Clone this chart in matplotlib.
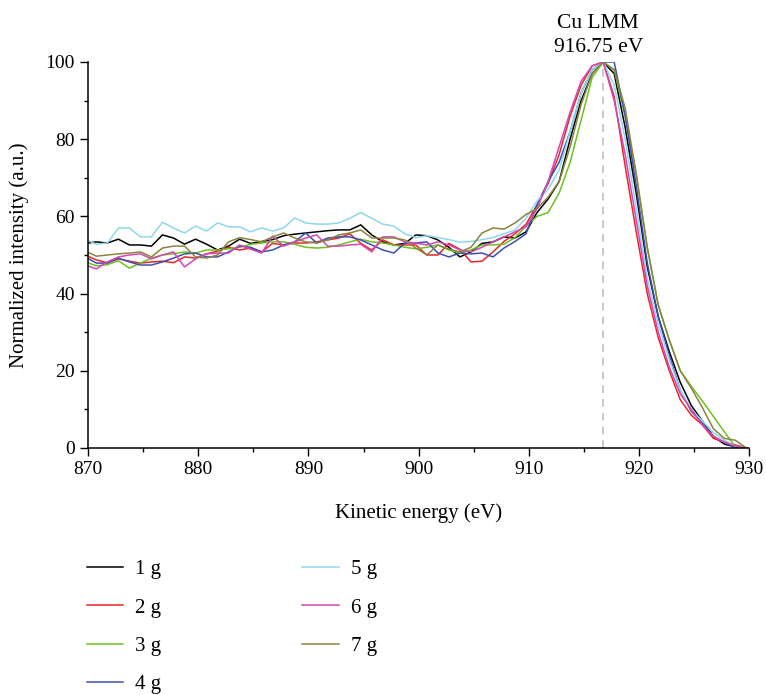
import numpy as np
import matplotlib
matplotlib.use("Agg")
import matplotlib.pyplot as plt
from matplotlib.ticker import MultipleLocator

plt.rcParams['font.family'] = ['Liberation Serif', 'DejaVu Serif']

# Kinetic energy grid (eV), one point per eV
energy = np.arange(869.75, 930.0, 1.0)

# Normalized intensity (a.u.)
int_1g = [53.0, 53.4, 53.1, 54.1, 52.6, 52.6, 52.3, 55.2, 54.4, 52.8,
          54.1, 52.8, 51.3, 52.3, 54.1, 53.0, 53.5, 54.0, 55.0, 55.4,
          55.7, 56.0, 56.3, 56.5, 56.5, 57.8, 55.2, 53.4, 52.6, 53.0,
          55.2, 55.0, 53.9, 52.0, 49.5, 50.8, 53.0, 53.4, 54.7, 54.4,
          56.0, 61.0, 64.5, 69.0, 80.0, 90.0, 97.0, 100.0, 97.0, 83.0,
          66.0, 47.0, 34.0, 25.0, 17.0, 11.0, 7.0, 3.0, 1.0, 0.3, 0.0]
int_2g = [50.0, 48.7, 48.0, 49.0, 48.4, 47.9, 48.2, 48.4, 48.0, 49.5,
          49.2, 50.3, 51.0, 52.0, 51.3, 51.8, 50.8, 53.0, 52.6, 53.1,
          53.1, 53.4, 53.9, 54.4, 55.5, 53.0, 51.3, 53.9, 52.6, 52.6,
          52.6, 50.0, 50.0, 53.0, 51.5, 48.2, 48.4, 50.8, 53.5, 55.5,
          58.0, 63.0, 68.5, 76.0, 86.0, 94.0, 99.0, 100.0, 91.0, 73.0,
          56.0, 40.0, 28.6, 20.0, 12.5, 8.5, 6.0, 2.5, 1.5, 0.8, 0.0]
int_3g = [48.2, 47.2, 47.5, 48.5, 46.6, 47.9, 49.2, 50.0, 50.3, 50.8,
          50.5, 51.3, 51.3, 51.6, 52.0, 52.8, 53.1, 53.4, 53.4, 52.8,
          52.0, 51.8, 52.0, 52.6, 53.4, 54.1, 53.4, 53.1, 52.6, 52.0,
          51.6, 52.0, 52.6, 51.3, 50.5, 51.3, 52.6, 52.6, 52.8, 54.5,
          57.5, 60.0, 61.0, 66.0, 74.0, 85.0, 96.0, 100.0, 98.0, 86.0,
          71.0, 52.0, 37.0, 28.0, 20.0, 16.0, 12.2, 8.2, 4.2, 0.3, 0.0]
int_4g = [49.5, 47.9, 47.9, 49.2, 48.2, 47.4, 47.4, 48.2, 49.2, 50.3,
          50.5, 49.5, 49.5, 50.8, 52.3, 52.0, 50.8, 51.3, 52.6, 53.4,
          55.7, 53.1, 54.4, 54.7, 54.7, 53.9, 52.6, 51.3, 50.5, 53.1,
          53.1, 53.4, 50.5, 49.5, 50.5, 50.3, 50.5, 49.5, 51.8, 53.5,
          55.5, 63.0, 69.0, 74.0, 82.0, 92.0, 98.0, 100.0, 100.0, 86.0,
          68.0, 48.0, 34.0, 24.0, 15.0, 9.5, 6.5, 3.0, 1.5, 0.0, 0.0]
int_5g = [54.0, 52.8, 53.1, 57.0, 57.0, 54.7, 54.7, 58.5, 57.0, 55.7,
          57.5, 56.2, 58.3, 57.3, 57.3, 56.0, 57.0, 56.2, 57.0, 59.6,
          58.3, 58.0, 58.0, 58.3, 59.5, 61.0, 59.5, 58.0, 57.5, 55.5,
          54.5, 55.0, 54.5, 54.0, 53.3, 53.5, 54.0, 54.5, 55.5, 56.5,
          59.5, 64.0, 67.0, 72.0, 82.0, 92.0, 98.0, 100.0, 94.0, 80.0,
          62.0, 44.0, 32.0, 23.0, 15.0, 10.0, 7.0, 4.0, 2.0, 0.5, 0.0]
int_6g = [47.4, 46.4, 48.2, 49.5, 50.0, 50.3, 49.0, 50.0, 50.8, 46.9,
          49.0, 50.3, 50.5, 50.5, 52.6, 51.5, 50.5, 54.9, 52.3, 53.4,
          54.4, 55.2, 52.3, 52.3, 52.6, 52.8, 50.8, 54.7, 54.7, 53.4,
          53.1, 52.6, 53.4, 52.6, 51.3, 50.8, 52.0, 53.4, 54.7, 56.0,
          57.3, 62.0, 69.0, 78.0, 87.0, 95.0, 99.0, 100.0, 90.0, 76.0,
          59.0, 42.0, 30.0, 21.0, 14.0, 10.0, 6.0, 3.0, 1.5, 0.5, 0.0]
int_7g = [51.0, 49.7, 50.0, 50.3, 50.5, 50.8, 49.5, 51.8, 52.3, 52.3,
          49.5, 49.2, 50.0, 53.4, 54.5, 54.0, 53.4, 54.7, 55.7, 54.4,
          53.4, 53.1, 53.9, 55.2, 55.7, 56.5, 54.4, 54.4, 54.4, 53.9,
          51.8, 50.0, 52.6, 51.5, 50.8, 52.0, 55.7, 57.0, 56.7, 58.3,
          60.5, 62.0, 65.0, 69.0, 78.0, 89.0, 97.0, 100.0, 98.0, 88.0,
          71.0, 52.0, 37.0, 28.0, 20.0, 15.5, 10.5, 5.0, 2.5, 2.0, 0.0]

labels = ["1 g", "2 g", "3 g", "4 g", "5 g", "6 g", "7 g"]
series = [int_1g, int_2g, int_3g, int_4g, int_5g, int_6g, int_7g]
colors = ["#000000", "#e8262a", "#6cc21c", "#3f4db3",
          "#8fd8ea", "#d646b4", "#8a8440"]

peak_energy = 916.75

fig = plt.figure(figsize=(7.66, 6.95), dpi=100)
ax = fig.add_axes([0.115, 0.3554, 0.863, 0.5554])

for y, lab, c in zip(series, labels, colors):
    ax.plot(energy, y, color=c, lw=1.1, label=lab)

# Dashed marker at the Cu LMM peak
ax.plot([peak_energy, peak_energy], [0, 100], color="#bbbbbb",
        lw=1.1, ls=(0, (5, 4)), zorder=0)
ax.text(916.3, 1.069, "Cu LMM\n916.75 eV", transform=ax.get_xaxis_transform(),
        ha="center", va="center", fontsize=15.5, linespacing=1.35)

ax.set_xlim(870, 930)
ax.set_ylim(0, 100)
ax.xaxis.set_major_locator(MultipleLocator(10))
ax.xaxis.set_minor_locator(MultipleLocator(5))
ax.yaxis.set_major_locator(MultipleLocator(20))
ax.yaxis.set_minor_locator(MultipleLocator(10))
ax.tick_params(which="major", direction="out", length=6, width=1,
               labelsize=14)
ax.tick_params(which="minor", direction="out", length=3, width=1)
ax.spines["top"].set_visible(False)
ax.spines["right"].set_visible(False)
ax.spines["left"].set_linewidth(1.1)
ax.spines["bottom"].set_linewidth(1.1)

ax.set_xlabel("Kinetic energy (eV)", fontsize=15, labelpad=18)
ax.set_ylabel("Normalized intensity (a.u.)", fontsize=15, labelpad=12)

fig.legend(loc="upper left", bbox_to_anchor=(0.0885, 0.2216), ncol=2,
           frameon=False, fontsize=15, handlelength=1.75, handletextpad=0.6,
           columnspacing=6.75, labelspacing=0.9)

fig.savefig("out.png", dpi=100)
